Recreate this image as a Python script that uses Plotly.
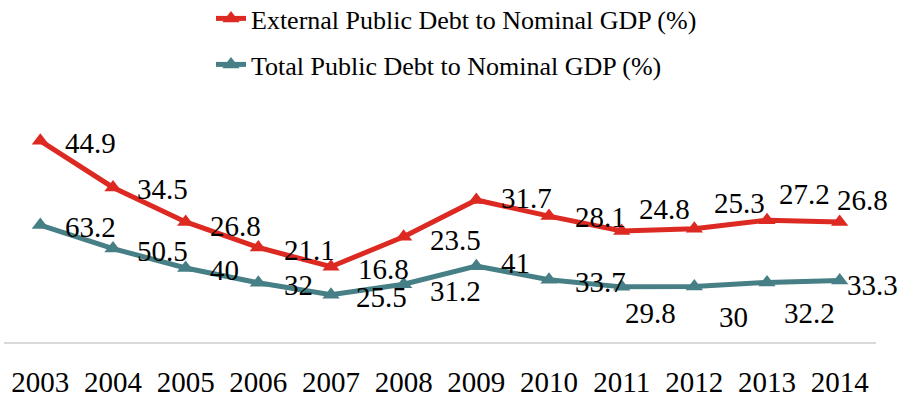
import plotly.graph_objects as go

# Public debt ratios, 2003-2014
years = ["2003", "2004", "2005", "2006", "2007", "2008",
         "2009", "2010", "2011", "2012", "2013", "2014"]
external_debt = [44.9, 34.5, 26.8, 21.1, 16.8, 23.5, 31.7, 28.1, 24.8, 25.3, 27.2, 26.8]
total_debt = [63.2, 50.5, 40, 32, 25.5, 31.2, 41, 33.7, 29.8, 30, 32.2, 33.3]

# label placement offsets (pixels) relative to each marker
ext_dx = [23, 22, 22, 24, 25, 24, 23, 24, 15, 18, 10, -5]
ext_dy = [-2, -2, -4, -3, -2, -3, 2, -1, 22, 26, 26, 22]
tot_dx = [23, 22, 22, 24, 23, 24, 23, 24, 1, 23, 15, 5]
tot_dy = [-2, -2, -2, -2, -2, -7, 3, -2, -26, -30, -31, -5]

RED = "#DC2A22"
TEAL = "#467F85"
FONT = "Liberation Serif"

fig = go.Figure()
fig.add_trace(go.Scatter(
    x=years, y=external_debt, name="External Public Debt to Nominal GDP (%)",
    mode="lines+markers", yaxis="y",
    line=dict(color=RED, width=5),
    marker=dict(symbol="triangle-up", size=15, color=RED),
    legend="legend",
))
fig.add_trace(go.Scatter(
    x=years, y=total_debt, name="Total Public Debt to Nominal GDP (%)",
    mode="lines+markers", yaxis="y2",
    line=dict(color=TEAL, width=5),
    marker=dict(symbol="triangle-up", size=15, color=TEAL),
    legend="legend2",
))

# value labels; on a category axis annotations take the category index
annotations = []
for i, (v, dx, dy) in enumerate(zip(external_debt, ext_dx, ext_dy)):
    annotations.append(dict(x=i, y=v, xref="x", yref="y", text=f"{v:g}",
                            showarrow=False, xanchor="left", yanchor="middle",
                            xshift=dx, yshift=dy,
                            font=dict(family=FONT, size=29, color="black")))
for i, (v, dx, dy) in enumerate(zip(total_debt, tot_dx, tot_dy)):
    annotations.append(dict(x=i, y=v, xref="x", yref="y2", text=f"{v:g}",
                            showarrow=False, xanchor="left", yanchor="middle",
                            xshift=dx, yshift=dy,
                            font=dict(family=FONT, size=29, color="black")))

legend_style = dict(
    xref="container", yref="container", xanchor="left", yanchor="middle",
    font=dict(family=FONT, size=26, color="black"),
    bgcolor="rgba(0,0,0,0)", borderwidth=0,
)

fig.update_layout(
    width=899, height=398,
    margin=dict(l=4, r=23, t=88, b=56, autoexpand=False),
    paper_bgcolor="white", plot_bgcolor="white",
    font=dict(family=FONT, size=29, color="black"),
    xaxis=dict(
        type="category", range=[-0.5, 11.5],
        showgrid=False, zeroline=False,
        showline=True, linecolor="#D9D9D9", linewidth=2,
        ticks="", ticklabelstandoff=13, tickangle=0,
        tickfont=dict(family=FONT, size=29, color="black"),
    ),
    yaxis=dict(range=[0, 56.7], visible=False, showgrid=False, zeroline=False),
    yaxis2=dict(range=[0, 137.3], visible=False, showgrid=False, zeroline=False,
                overlaying="y", side="right"),
    legend=dict(x=211 / 899, y=1 - 18.5 / 398, **legend_style),
    legend2=dict(x=211 / 899, y=1 - 64.5 / 398, **legend_style),
    annotations=annotations,
    showlegend=True,
)

fig.write_html("out.html")
